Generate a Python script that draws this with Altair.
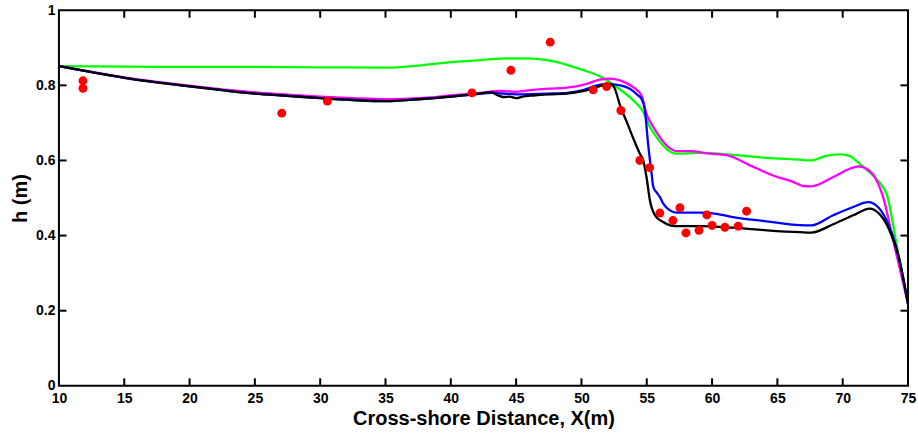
import altair as alt
import pandas as pd

# ---- data ----
black_x = [10, 12.5, 15, 17.5, 20, 22.5, 25, 27.5, 30, 32.5, 35, 37.5, 40, 42, 43.1, 43.5, 44, 44.5, 45, 45.5,
           46.3, 47.5, 48.9, 50.2, 51, 51.6, 52.2, 52.5, 53.0, 53.5, 54.0, 54.47, 54.73, 54.98, 55.24, 55.63,
           56.26, 57.15, 59.07, 61.6, 64.2, 66.75, 67.6, 69.27, 70.8, 72.07, 72.8, 73.58, 74.35, 75]
black_y = [0.851, 0.835, 0.820, 0.808, 0.797, 0.787, 0.778, 0.772, 0.766, 0.761, 0.758, 0.763, 0.770, 0.777,
           0.782, 0.775, 0.769, 0.770, 0.766, 0.770, 0.773, 0.776, 0.778, 0.785, 0.793, 0.800, 0.804, 0.795,
           0.742, 0.700, 0.656, 0.618, 0.600, 0.556, 0.494, 0.454, 0.436, 0.425, 0.425, 0.421, 0.414, 0.409,
           0.408, 0.430, 0.454, 0.472, 0.458, 0.414, 0.334, 0.218]

blue_x = [10, 12.5, 15, 17.5, 20, 22.5, 25, 27.5, 30, 32.5, 35, 37.5, 40, 42, 43.1, 45, 47.5, 48.9, 50.2,
          51.0, 51.93, 52.95, 53.7, 54.34, 54.6, 54.86, 55.1, 55.37, 55.5, 55.75, 56.0, 56.26, 56.77, 57.28,
          59.07, 60.35, 61.6, 64.17, 66.7, 67.6, 69.27, 70.8, 71.95, 72.7, 73.35, 74.1, 75]
blue_y = [0.851, 0.835, 0.820, 0.808, 0.797, 0.787, 0.778, 0.772, 0.766, 0.761, 0.758, 0.763, 0.770, 0.777,
          0.780, 0.776, 0.778, 0.780, 0.788, 0.798, 0.804, 0.800, 0.791, 0.773, 0.764, 0.733, 0.645, 0.565,
          0.530, 0.515, 0.503, 0.485, 0.467, 0.461, 0.461, 0.458, 0.449, 0.438, 0.428, 0.427, 0.454, 0.476,
          0.489, 0.476, 0.441, 0.370, 0.218]

magenta_x = [10, 12.5, 15, 17.5, 20, 22.5, 25, 27.5, 30, 32.5, 35, 37.5, 40, 42, 43.8, 45, 46.3, 47.5, 48.9,
             50.2, 51.4, 52.2, 52.95, 53.96, 54.6, 54.98, 55.5, 56.0, 56.64, 57.28, 58.3, 59.84, 61.1, 62.9,
             64.67, 66.2, 66.97, 67.6, 69.27, 70.55, 71.2, 71.82, 72.45, 73.09, 73.86, 75]
magenta_y = [0.851, 0.836, 0.821, 0.809, 0.799, 0.789, 0.781, 0.775, 0.770, 0.766, 0.763, 0.766, 0.773,
             0.779, 0.785, 0.783, 0.788, 0.791, 0.794, 0.802, 0.815, 0.818, 0.813, 0.795, 0.773, 0.724, 0.689,
             0.662, 0.636, 0.625, 0.625, 0.618, 0.614, 0.587, 0.560, 0.543, 0.532, 0.531, 0.556, 0.578, 0.584,
             0.578, 0.556, 0.503, 0.388, 0.218]

green_x = [10, 15, 20, 25, 30, 35, 38.2, 40, 41.7, 43.8, 45.8, 47.6, 50.1, 51.4, 52.7, 53.96, 54.73, 55.24,
           55.75, 56.5, 57.28, 59.07, 61.6, 64.17, 66.7, 67.6, 68.7, 69.78, 70.5, 71.3, 72.33, 73.09, 73.35,
           74.2, 75]
green_y = [0.851, 0.850, 0.849, 0.849, 0.848, 0.847, 0.855, 0.862, 0.866, 0.871, 0.872, 0.866, 0.841, 0.824,
           0.795, 0.760, 0.729, 0.689, 0.662, 0.631, 0.618, 0.620, 0.615, 0.607, 0.602, 0.600, 0.612, 0.616,
           0.612, 0.591, 0.560, 0.529, 0.512, 0.362, 0.218]

obs_x = [11.84, 11.84, 27.06, 30.55, 41.62, 44.6, 47.61, 50.9, 51.93, 53.02, 54.47, 55.22, 56.0, 57.54,
         57.0, 58.0, 59.0, 59.6, 60.0, 60.98, 62.0, 62.64]
obs_y = [0.812, 0.792, 0.726, 0.758, 0.780, 0.840, 0.915, 0.788, 0.797, 0.733, 0.600, 0.581, 0.460, 0.474,
         0.440, 0.407, 0.414, 0.455, 0.427, 0.422, 0.425, 0.465]

x_tick_values = [10, 15, 20, 25, 30, 35, 40, 45, 50, 55, 60, 65, 70, 75]
y_tick_values = [0, 0.2, 0.4, 0.6, 0.8, 1]
x_inner_ticks = [15, 20, 25, 30, 35, 40, 45, 50, 55, 60, 65, 70]
y_inner_ticks = [0.2, 0.4, 0.6, 0.8]

XMIN, XMAX, YMIN, YMAX = 10, 75, 0, 1
TX = 0.58   # inward tick length in x units
TY = 0.02   # inward tick length in y units

FONT = "Liberation Sans"
xs = alt.Scale(domain=[XMIN, XMAX], nice=False, zero=False)
ys = alt.Scale(domain=[YMIN, YMAX], nice=False, zero=False)

x_axis = alt.Axis(values=x_tick_values, format="d", title="Cross-shore Distance, X(m)",
                  ticks=False, domain=False, grid=False, labelFlush=False, labelOverlap=False,
                  labelFontSize=14, labelFontWeight="bold", labelFont=FONT, labelColor="black",
                  labelPadding=6, titleFontSize=20, titleFontWeight="bold", titleFont=FONT,
                  titleColor="black", titlePadding=3)
y_axis = alt.Axis(values=y_tick_values, format="~g", title="h (m)",
                  ticks=False, domain=False, grid=False, labelFlush=False, labelOverlap=False,
                  labelFontSize=14, labelFontWeight="bold", labelFont=FONT, labelColor="black",
                  labelPadding=4, titleFontSize=20, titleFontWeight="bold", titleFont=FONT,
                  titleColor="black", titlePadding=5)


def X(field):
    return alt.X(field, type="quantitative", scale=xs, axis=x_axis)


def Y(field):
    return alt.Y(field, type="quantitative", scale=ys, axis=y_axis)


def line_layer(xv, yv, color):
    df = pd.DataFrame({"x": xv, "y": yv})
    return alt.Chart(df).mark_line(color=color, strokeWidth=2.3, clip=True,
                                   interpolate="monotone").encode(x=X("x"), y=Y("y"))


green = line_layer(green_x, green_y, "#00ff00")
magenta = line_layer(magenta_x, magenta_y, "#ff00ff")
blue = line_layer(blue_x, blue_y, "#0000ff")
black = line_layer(black_x, black_y, "#000000")

dots = alt.Chart(pd.DataFrame({"x": obs_x, "y": obs_y})).mark_circle(
    color="#ff0000", size=80, opacity=1).encode(x=X("x"), y=Y("y"))

# inward ticks on four sides
xt = pd.DataFrame({"x": x_inner_ticks})
yt = pd.DataFrame({"y": y_inner_ticks})
bottom_ticks = alt.Chart(xt).mark_rule(color="black", strokeWidth=2).transform_calculate(
    ya=str(YMIN), yb=str(YMIN + TY)).encode(x=X("x"), y=Y("ya"), y2="yb:Q")
top_ticks = alt.Chart(xt).mark_rule(color="black", strokeWidth=2).transform_calculate(
    ya=str(YMAX), yb=str(YMAX - TY)).encode(x=X("x"), y=Y("ya"), y2="yb:Q")
left_ticks = alt.Chart(yt).mark_rule(color="black", strokeWidth=2).transform_calculate(
    xa=str(XMIN), xb=str(XMIN + TX)).encode(y=Y("y"), x=X("xa"), x2="xb:Q")
right_ticks = alt.Chart(yt).mark_rule(color="black", strokeWidth=2).transform_calculate(
    xa=str(XMAX), xb=str(XMAX - TX)).encode(y=Y("y"), x=X("xa"), x2="xb:Q")

chart = alt.layer(green, magenta, blue, black, dots,
                  bottom_ticks, top_ticks, left_ticks, right_ticks).properties(
    width=850, height=376,
    padding={"left": 59, "top": 10, "right": 10, "bottom": 47},
    autosize=alt.AutoSizeParams(type="none"),
    background="white",
).configure_view(stroke="black", strokeWidth=2)

chart.save("out.html", embed_options={"renderer": "svg", "actions": False})
